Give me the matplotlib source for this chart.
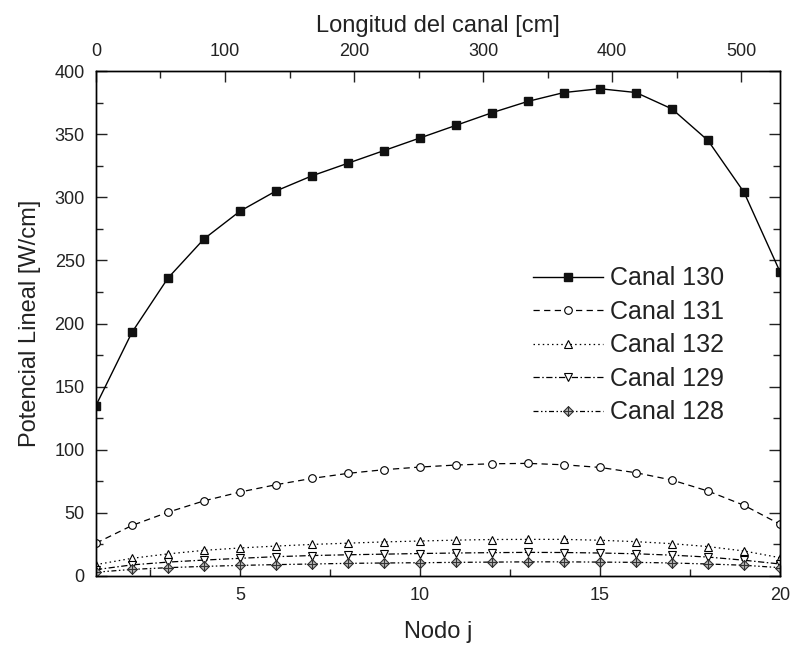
import numpy as np
import matplotlib
matplotlib.use("Agg")
import matplotlib.pyplot as plt
from matplotlib.path import Path
from matplotlib.ticker import MultipleLocator

plt.rcParams['font.family'] = ['Liberation Sans', 'DejaVu Sans']

# datos
nodos = np.arange(1, 21)
canal_130 = [135, 193, 236, 267, 289, 305, 317, 327, 337, 347,
             357, 367, 376, 383, 386, 383, 370, 345, 304, 241]
canal_131 = [26, 40, 50.5, 59.5, 66.5, 72.3, 77.3, 81.3, 84.2, 86.3,
             87.9, 88.9, 89.2, 88.1, 86, 81.8, 76, 67.3, 56, 41]
canal_132 = [9, 14, 17.5, 20.3, 22.2, 23.7, 25, 26, 27, 27.7,
             28.4, 28.9, 29, 29, 28.3, 27.2, 25.6, 23.3, 19.8, 14.5]
canal_129 = [5, 8.8, 11, 12.6, 14, 15.3, 16.2, 16.8, 17.3, 17.8,
             18.2, 18.5, 18.7, 18.6, 18.2, 17.6, 16.5, 15, 12.5, 9.5]
canal_128 = [3, 5.2, 6.6, 7.6, 8.4, 9, 9.5, 10, 10.3, 10.5,
             10.8, 11, 11.2, 11.2, 11, 10.8, 10.3, 9.5, 8.5, 6.6]
longitud_max = 530  # cm, nodo 20

# marcador rombo con cruz
rombo_cruz = Path(
    [(0, 1), (1, 0), (0, -1), (-1, 0), (0, 1), (0, 1), (0, -1), (-1, 0), (1, 0)],
    [Path.MOVETO, Path.LINETO, Path.LINETO, Path.LINETO, Path.CLOSEPOLY,
     Path.MOVETO, Path.LINETO, Path.MOVETO, Path.LINETO])

gris = '#222222'

fig = plt.figure(figsize=(7.93, 6.49), dpi=100)
ax = fig.add_axes([0.121, 0.1125, 0.8626, 0.778])

ax.plot(nodos, canal_130, '-', color='black', lw=1.0, marker='s', ms=5.5,
        mfc='#111111', mec='#111111', label='Canal 130')
ax.plot(nodos, canal_131, color='black', lw=0.9, ls=(0, (5, 3.5)), marker='o', ms=5.5,
        mfc='white', mec='black', mew=0.8, label='Canal 131')
ax.plot(nodos, canal_132, color='black', lw=0.9, ls=(0, (1.2, 2.5)), marker='^', ms=5.5,
        mfc='white', mec='black', mew=0.8, label='Canal 132')
ax.plot(nodos, canal_129, color='black', lw=0.9, ls=(0, (5, 2, 1.2, 2)), marker='v', ms=5.5,
        mfc='white', mec='black', mew=0.8, label='Canal 129')
ax.plot(nodos, canal_128, color='black', lw=0.9, ls=(0, (4, 2, 1.2, 2, 1.2, 2)),
        marker=rombo_cruz, ms=7, mfc='#bbbbbb', mec='#333333', mew=0.8, label='Canal 128')

ax.set_xlim(1, 20)
ax.set_ylim(0, 400)
ax.xaxis.set_major_locator(MultipleLocator(5))
ax.xaxis.set_minor_locator(MultipleLocator(2.5))
ax.yaxis.set_major_locator(MultipleLocator(50))
ax.yaxis.set_minor_locator(MultipleLocator(25))
ax.tick_params(which='both', direction='in', right=True, labelsize=13, colors=gris, pad=8)
ax.tick_params(which='major', length=8, width=1)
ax.tick_params(which='minor', length=5, width=1)
ax.set_xlabel('Nodo j', fontsize=17, labelpad=12, color=gris)
ax.set_ylabel('Potencial Lineal [W/cm]', fontsize=17, labelpad=10, color=gris)

ax2 = ax.twiny()
ax2.set_xlim(0, longitud_max)
ax2.xaxis.set_major_locator(MultipleLocator(100))
ax2.xaxis.set_minor_locator(MultipleLocator(50))
ax2.tick_params(which='both', direction='in', labelsize=13, colors=gris, pad=8)
ax2.tick_params(which='major', length=8, width=1)
ax2.tick_params(which='minor', length=5, width=1)
ax2.set_xlabel('Longitud del canal [cm]', fontsize=17, labelpad=8, color=gris)

for a in (ax, ax2):
    for s in a.spines.values():
        s.set_linewidth(1.0)

ax.legend(loc='upper left', bbox_to_anchor=(0.625, 0.633), frameon=False, fontsize=18,
          handlelength=2.8, handletextpad=0.28, labelspacing=0.38, borderaxespad=0,
          labelcolor=gris)

fig.savefig('out.png', dpi=100)
